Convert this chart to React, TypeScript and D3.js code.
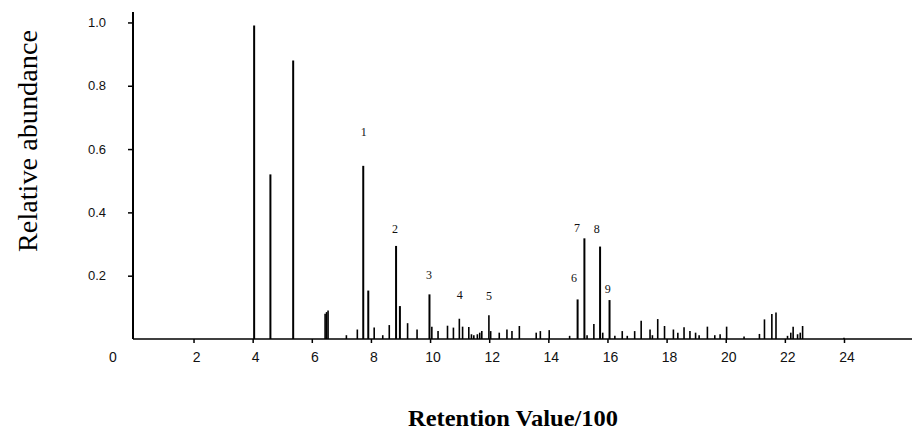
import React, { useEffect, useRef } from 'react';
import * as d3 from 'd3';

// retention value / 100 of each peak
const RETENTION = [
  4.05, 4.6, 5.37, 6.45, 6.5, 6.55, 7.17, 7.54, 7.74, 7.91, 8.11, 8.4, 8.62, 8.85, 8.98, 9.24,
  9.56, 9.98, 10.06, 10.27, 10.59, 10.79, 10.99, 11.1, 11.31, 11.4, 11.48, 11.6, 11.68, 11.75,
  11.99, 12.05, 12.34, 12.6, 12.77, 13.02, 13.59, 13.73, 14.03, 14.72, 14.99, 15.22, 15.31,
  15.54, 15.75, 15.84, 16.07, 16.25, 16.5, 16.67, 16.92, 17.14, 17.44, 17.52, 17.7, 17.93,
  18.23, 18.38, 18.59, 18.79, 18.98, 19.1, 19.38, 19.63, 19.81, 20.03, 20.62, 21.14, 21.31,
  21.56, 21.7, 22.09, 22.2, 22.28, 22.43, 22.52, 22.6, 24.0,
];

// relative abundance of each peak
const ABUNDANCE = [
  0.99, 0.52, 0.88, 0.08, 0.085, 0.09, 0.012, 0.03, 0.547, 0.153, 0.036, 0.012, 0.044, 0.294,
  0.104, 0.05, 0.03, 0.141, 0.039, 0.025, 0.042, 0.036, 0.064, 0.039, 0.038, 0.015, 0.012,
  0.015, 0.02, 0.025, 0.075, 0.025, 0.02, 0.03, 0.025, 0.041, 0.02, 0.025, 0.028, 0.01, 0.125,
  0.318, 0.012, 0.047, 0.292, 0.02, 0.123, 0.01, 0.025, 0.01, 0.025, 0.058, 0.03, 0.012, 0.063,
  0.041, 0.03, 0.02, 0.037, 0.025, 0.02, 0.012, 0.039, 0.012, 0.015, 0.039, 0.008, 0.016, 0.062,
  0.079, 0.084, 0.01, 0.02, 0.039, 0.015, 0.02, 0.041, 0.004,
];

// numbered compounds: label, retention and abundance where the number sits
const PEAK_LABELS = ['1', '2', '3', '4', '5', '6', '7', '8', '9'];
const LABEL_RETENTION = [7.76, 8.81, 9.96, 11.0, 11.99, 14.87, 14.97, 15.64, 16.01];
const LABEL_LEVEL = [0.655, 0.348, 0.202, 0.139, 0.136, 0.193, 0.351, 0.348, 0.158];

const X_TICKS = [2, 4, 6, 8, 10, 12, 14, 16, 18, 20, 22, 24];
const Y_TICKS = [0.2, 0.4, 0.6, 0.8, 1.0];

const App = () => {
  const ref = useRef<SVGSVGElement | null>(null);

  useEffect(() => {
    var width = 912,
      height = 432;

    var svg = d3.select(ref.current);
    svg.selectAll('*').remove();

    var x = d3.scaleLinear().domain([0, 26.3]).range([134.4, 912]);
    var y = d3.scaleLinear().domain([0, 1.033]).range([339, 12]);

    var peaks = RETENTION.map((r, i) => ({ r, a: ABUNDANCE[i] }));

    // baseline
    svg
      .append('line')
      .attr('x1', 133)
      .attr('x2', width)
      .attr('y1', y(0))
      .attr('y2', y(0))
      .attr('stroke', '#000')
      .attr('stroke-width', 1.6);

    // peaks
    svg
      .append('g')
      .selectAll('line')
      .data(peaks)
      .enter()
      .append('line')
      .attr('x1', d => x(d.r))
      .attr('x2', d => x(d.r))
      .attr('y1', y(0))
      .attr('y2', d => y(d.a))
      .attr('stroke', '#000')
      .attr('stroke-width', d => (d.a > 0.1 ? 2 : 1.6));

    // x axis
    var xAxis = d3
      .axisBottom(x)
      .tickValues(X_TICKS)
      .tickFormat(d3.format('d'))
      .tickSize(4)
      .tickPadding(9);
    var gx = svg
      .append('g')
      .attr('transform', `translate(0,${y(0)})`)
      .call(xAxis);
    gx.select('.domain').remove();
    gx.selectAll('line').attr('stroke', '#000').attr('stroke-width', 1.5);
    gx.selectAll('text')
      .attr('dx', 2.5)
      .style('font-family', '"Liberation Sans", Arial, sans-serif')
      .style('font-size', '14px')
      .style('fill', '#111');

    svg
      .append('text')
      .attr('x', 113)
      .attr('y', y(0) + 13)
      .attr('dy', '0.71em')
      .attr('text-anchor', 'middle')
      .style('font-family', '"Liberation Sans", Arial, sans-serif')
      .style('font-size', '14px')
      .style('fill', '#111')
      .text('0');

    // y axis
    var yAxis = d3
      .axisLeft(y)
      .tickValues(Y_TICKS)
      .tickFormat(d3.format('.1f'))
      .tickSize(5)
      .tickPadding(22);
    var gy = svg.append('g').attr('transform', 'translate(133,0)').call(yAxis);
    gy.select('.domain').remove();
    gy.selectAll('line').attr('stroke', '#000').attr('stroke-width', 1.5);
    gy.selectAll('text')
      .style('font-family', '"Liberation Sans", Arial, sans-serif')
      .style('font-size', '13px')
      .style('fill', '#111');

    svg
      .append('line')
      .attr('x1', 133)
      .attr('x2', 133)
      .attr('y1', y(0))
      .attr('y2', 12)
      .attr('stroke', '#000')
      .attr('stroke-width', 2);

    // peak numbers
    svg
      .append('g')
      .selectAll('text')
      .data(PEAK_LABELS)
      .enter()
      .append('text')
      .attr('x', (d, i) => x(LABEL_RETENTION[i]))
      .attr('y', (d, i) => y(LABEL_LEVEL[i]))
      .attr('dy', '0.35em')
      .attr('text-anchor', 'middle')
      .style('font-family', '"Liberation Serif", "Times New Roman", serif')
      .style('font-size', '12px')
      .style('fill', '#111')
      .text(d => d);

    // axis titles
    svg
      .append('text')
      .attr('transform', 'translate(37,141) rotate(-90)')
      .attr('text-anchor', 'middle')
      .attr('textLength', 222)
      .attr('lengthAdjust', 'spacingAndGlyphs')
      .style('font-family', '"Liberation Serif", "Times New Roman", serif')
      .style('font-size', '27px')
      .style('fill', '#000')
      .text('Relative abundance');

    svg
      .append('text')
      .attr('x', 513)
      .attr('y', 426)
      .attr('text-anchor', 'middle')
      .attr('textLength', 210)
      .attr('lengthAdjust', 'spacingAndGlyphs')
      .style('font-family', '"Liberation Serif", "Times New Roman", serif')
      .style('font-size', '24px')
      .style('font-weight', 'bold')
      .style('fill', '#000')
      .text('Retention Value/100');
  }, []);

  return (
    <svg
      ref={ref}
      width={912}
      height={432}
      style={{ position: 'absolute', left: 0, top: 0, background: '#fff' }}
    />
  );
};

export default App;
